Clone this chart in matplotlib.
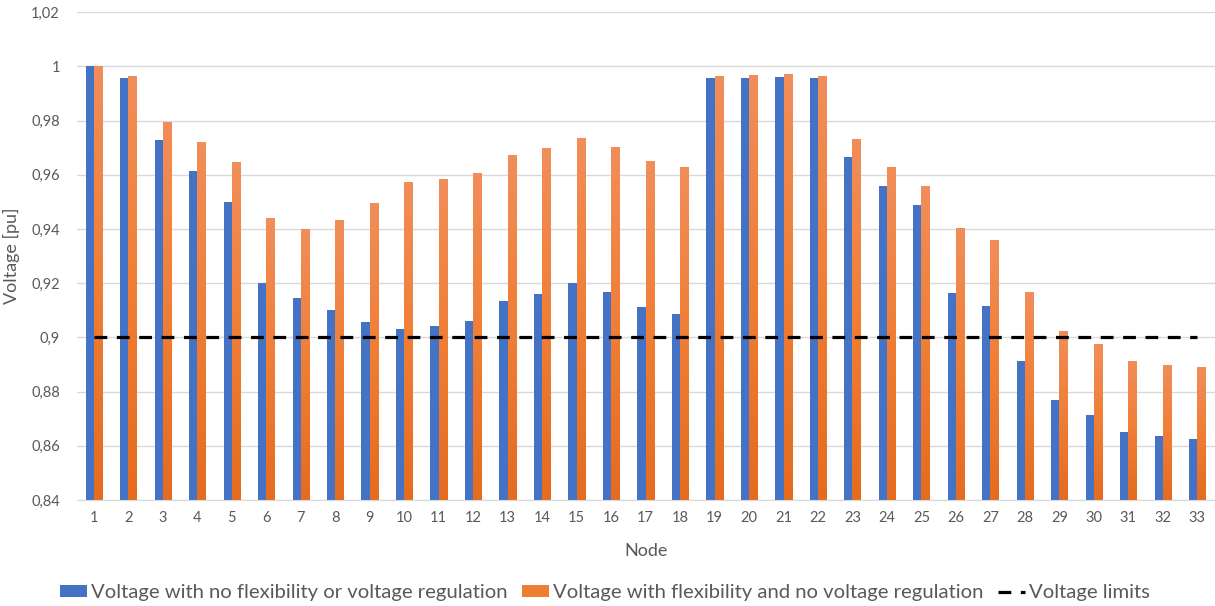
import numpy as np
import matplotlib.pyplot as plt
from matplotlib.colors import LinearSegmentedColormap

# Tensiunile pe noduri (reteaua de 33 de noduri)
nodes = list(range(1, 34))
v_base = [1.0, 0.9956, 0.973, 0.9615, 0.950, 0.920, 0.9144, 0.9101, 0.9058,
          0.9032, 0.9042, 0.906, 0.9133, 0.916, 0.9201, 0.9166, 0.9112, 0.9087,
          0.9956, 0.9956, 0.9962, 0.9956, 0.9665, 0.956, 0.949, 0.9163,
          0.9115, 0.8914, 0.877, 0.8715, 0.8652, 0.8638, 0.8626]
v_flex = [1.0, 0.9966, 0.9796, 0.972, 0.9647, 0.9442, 0.940, 0.9433, 0.9496,
          0.9574, 0.9583, 0.9605, 0.9674, 0.9697, 0.9737, 0.9701, 0.9649, 0.9628,
          0.9966, 0.9968, 0.9971, 0.9966, 0.9731, 0.9627, 0.9557, 0.9405,
          0.936, 0.9167, 0.9025, 0.8975, 0.8914, 0.8899, 0.8891]
v_limit = 0.9

labels = ['Voltage with no flexibility or voltage regulation',
          'Voltage with flexibility and no voltage regulation',
          'Voltage limits']

Y_MIN, Y_MAX = 0.84, 1.02
BLUE = '#4472C4'
ORANGE = '#ED7D31'
TXT = '#595959'
W = 0.24

plt.rcParams['font.family'] = ['Lato', 'DejaVu Sans']

fig = plt.figure(figsize=(12.15, 6.06), dpi=100)
ax = fig.add_axes([0.0631, 0.1749, 0.9365, 0.8051])

x = np.arange(len(nodes))
h_base = ax.bar(x - W / 2, v_base, W, color=BLUE, zorder=2)
bars = ax.bar(x + W / 2, v_flex, W, color=ORANGE, zorder=2)

# gradient pe barele portocalii (mai deschis sus, mai inchis jos)
cmap = LinearSegmentedColormap.from_list('og', ['#E56B1F', '#F07E35', '#F08E5A'])
grad = np.linspace(0, 1, 256).reshape(-1, 1)
for b in bars:
    x0 = b.get_x()
    top = b.get_height()
    im = ax.imshow(grad, cmap=cmap, origin='lower', aspect='auto',
                   extent=[x0, x0 + b.get_width(), Y_MIN, top], zorder=2.1)
    im.set_clip_path(b)

h_lim, = ax.plot(x, [v_limit] * len(x), color='black', lw=2.3, ls=(0, (4, 3)),
                 zorder=3)

ax.set_xlim(-0.5, len(nodes) - 0.5)
ax.set_ylim(Y_MIN, Y_MAX)
yt = np.arange(0.84, 1.0201, 0.02)
ax.set_yticks(yt)
ax.set_yticklabels([('%g' % round(v, 2)).replace('.', ',') for v in yt])
ax.set_xticks(x)
ax.set_xticklabels([str(n) for n in nodes])
ax.tick_params(length=0, labelsize=10.5, colors=TXT, pad=8)
ax.tick_params(axis='y', pad=12)

ax.grid(axis='y', color='#D9D9D9', lw=1, zorder=0)
for s in ['top', 'right', 'left']:
    ax.spines[s].set_visible(False)
ax.spines['bottom'].set_color('#D9D9D9')

ax.set_xlabel('Node', fontsize=13, color=TXT, labelpad=13)
ax.set_ylabel('Voltage [pu]', fontsize=13, color=TXT, labelpad=8)

fig.legend([h_base, bars, h_lim], labels, loc='center',
           bbox_to_anchor=(0.498, 0.0215), ncol=3, frameon=False,
           fontsize=14.6, handlelength=1.3, handleheight=0.55, handletextpad=0.2,
           columnspacing=0.75, labelcolor=TXT)

fig.savefig('out.png', dpi=100)
